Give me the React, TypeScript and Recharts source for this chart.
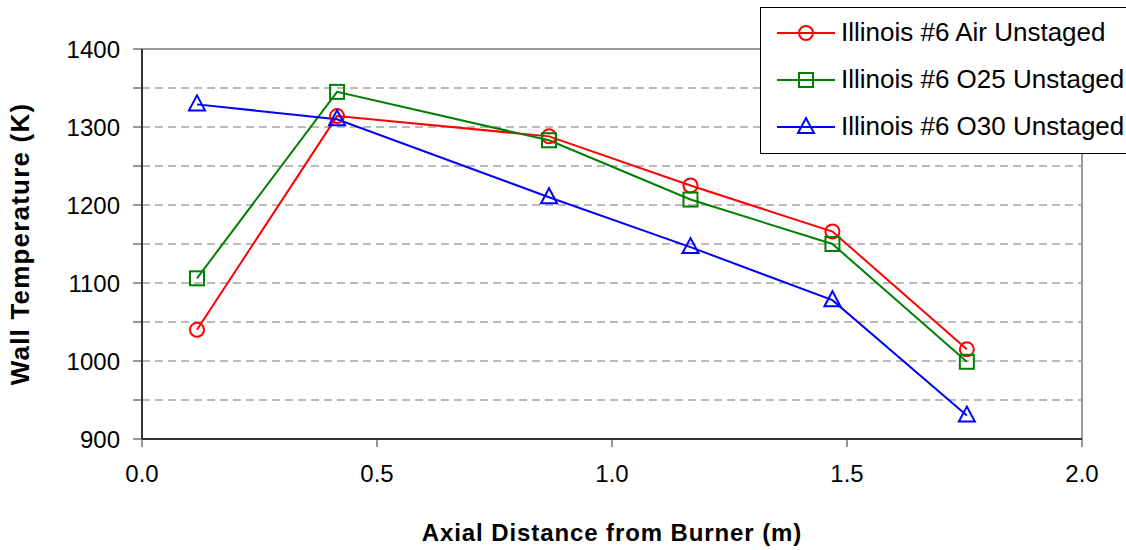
import { LineChart, Line, XAxis, YAxis, CartesianGrid, ReferenceLine, Label } from 'recharts';

// axial positions (m) shared by all three runs
const distances = [0.117, 0.415, 0.866, 1.167, 1.469, 1.755];

const airTemps = [1040, 1314, 1288, 1225, 1166, 1015];
const o25Temps = [1106, 1345, 1283, 1207, 1150, 999];
const o30Temps = [1329, 1310, 1210, 1146, 1078, 930];

const seriesNames = ['Illinois #6 Air Unstaged', 'Illinois #6 O25 Unstaged', 'Illinois #6 O30 Unstaged'];

const yTicks = [900, 950, 1000, 1050, 1100, 1150, 1200, 1250, 1300, 1350, 1400];
const xTicks = [0, 0.5, 1.0, 1.5, 2.0];

const toPoints = (temps: number[]) => distances.map((d, i) => ({ x: d, y: temps[i] }));

const FONT = 'Arial, "Liberation Sans", Helvetica, sans-serif';

function Marker({ kind, cx, cy, color }: { kind: string; cx: number; cy: number; color: string }) {
  if (kind === 'circle') {
    return <circle cx={cx} cy={cy} r={7} fill="none" stroke={color} strokeWidth={2} />;
  }
  if (kind === 'square') {
    return <rect x={cx - 7} y={cy - 7} width={14} height={14} fill="none" stroke={color} strokeWidth={2} />;
  }
  return (
    <polygon
      points={`${cx},${cy - 9} ${cx - 8},${cy + 6} ${cx + 8},${cy + 6}`}
      fill="none"
      stroke={color}
      strokeWidth={2}
    />
  );
}

const makeDot = (kind: string, color: string) => (props: any) => (
  <Marker key={`${kind}-${props.index}`} kind={kind} cx={props.cx} cy={props.cy} color={color} />
);

const legendItems = [
  { name: seriesNames[0], color: '#ff0000', kind: 'circle' },
  { name: seriesNames[1], color: '#008000', kind: 'square' },
  { name: seriesNames[2], color: '#0000ff', kind: 'triangle' },
];

// boxed legend in the top right corner, drawn over the plot like the original
function ChartLegend() {
  return (
    <div
      style={{
        position: 'absolute',
        left: 760,
        top: 7,
        width: 366,
        height: 147,
        border: '1px solid #000',
        borderRight: 'none',
        background: '#fff',
        boxSizing: 'border-box',
        paddingTop: 1,
      }}
    >
      {legendItems.map((item) => (
        <div key={item.name} style={{ display: 'flex', alignItems: 'center', height: 47 }}>
          <svg width={80} height={30} style={{ flex: 'none' }}>
            <line x1={16} y1={15} x2={74} y2={15} stroke={item.color} strokeWidth={2} />
            <Marker kind={item.kind} cx={45} cy={15} color={item.color} />
          </svg>
          <span style={{ fontFamily: FONT, fontSize: 26, color: '#000', whiteSpace: 'nowrap' }}>{item.name}</span>
        </div>
      ))}
    </div>
  );
}

export default function App() {
  return (
    <div style={{ position: 'absolute', left: 0, top: 0, width: 1126, height: 550, background: '#fff', overflow: 'hidden' }}>
      <LineChart width={1126} height={550} margin={{ top: 49, right: 44, bottom: 0, left: 0 }}>
        <CartesianGrid vertical={false} stroke="#777" strokeDasharray="8 5" />
        <XAxis
          type="number"
          dataKey="x"
          domain={[0, 2]}
          ticks={xTicks}
          tickFormatter={(v: number) => v.toFixed(1)}
          height={111}
          tickSize={8}
          tickMargin={18}
          stroke="#000"
          tick={{ fill: '#000', fontSize: 24, fontFamily: FONT }}
          axisLine={{ stroke: '#333', strokeWidth: 2 }}
          tickLine={{ stroke: '#333', strokeWidth: 1 }}
        >
          <Label
            value="Axial Distance from Burner (m)"
            position="insideBottom"
            offset={9}
            style={{ fontFamily: FONT, fontSize: 24, fontWeight: 'bold', fill: '#000', letterSpacing: 0.9 }}
          />
        </XAxis>
        <YAxis
          type="number"
          dataKey="y"
          domain={[900, 1400]}
          ticks={yTicks}
          interval={0}
          tickFormatter={(v: number) => (v % 100 === 0 ? String(v) : '')}
          width={142}
          tickSize={9}
          tickMargin={13}
          tick={{ fill: '#000', fontSize: 24, fontFamily: FONT }}
          axisLine={{ stroke: '#333', strokeWidth: 2 }}
          tickLine={{ stroke: '#333', strokeWidth: 1 }}
        >
          <Label
            value="Wall Temperature (K)"
            angle={-90}
            position="insideLeft"
            offset={20}
            style={{ fontFamily: FONT, fontSize: 26, fontWeight: 'bold', fill: '#000', textAnchor: 'middle', letterSpacing: 1.2 }}
          />
        </YAxis>
        <ReferenceLine y={1400} stroke="#999" strokeWidth={2} />
        <ReferenceLine x={2} stroke="#999" strokeWidth={2} />
        <Line
          data={toPoints(airTemps)}
          dataKey="y"
          name={seriesNames[0]}
          stroke="#ff0000"
          strokeWidth={2}
          dot={makeDot('circle', '#ff0000')}
          isAnimationActive={false}
        />
        <Line
          data={toPoints(o25Temps)}
          dataKey="y"
          name={seriesNames[1]}
          stroke="#008000"
          strokeWidth={2}
          dot={makeDot('square', '#008000')}
          isAnimationActive={false}
        />
        <Line
          data={toPoints(o30Temps)}
          dataKey="y"
          name={seriesNames[2]}
          stroke="#0000ff"
          strokeWidth={2}
          dot={makeDot('triangle', '#0000ff')}
          isAnimationActive={false}
        />
      </LineChart>
      <ChartLegend />
    </div>
  );
}
